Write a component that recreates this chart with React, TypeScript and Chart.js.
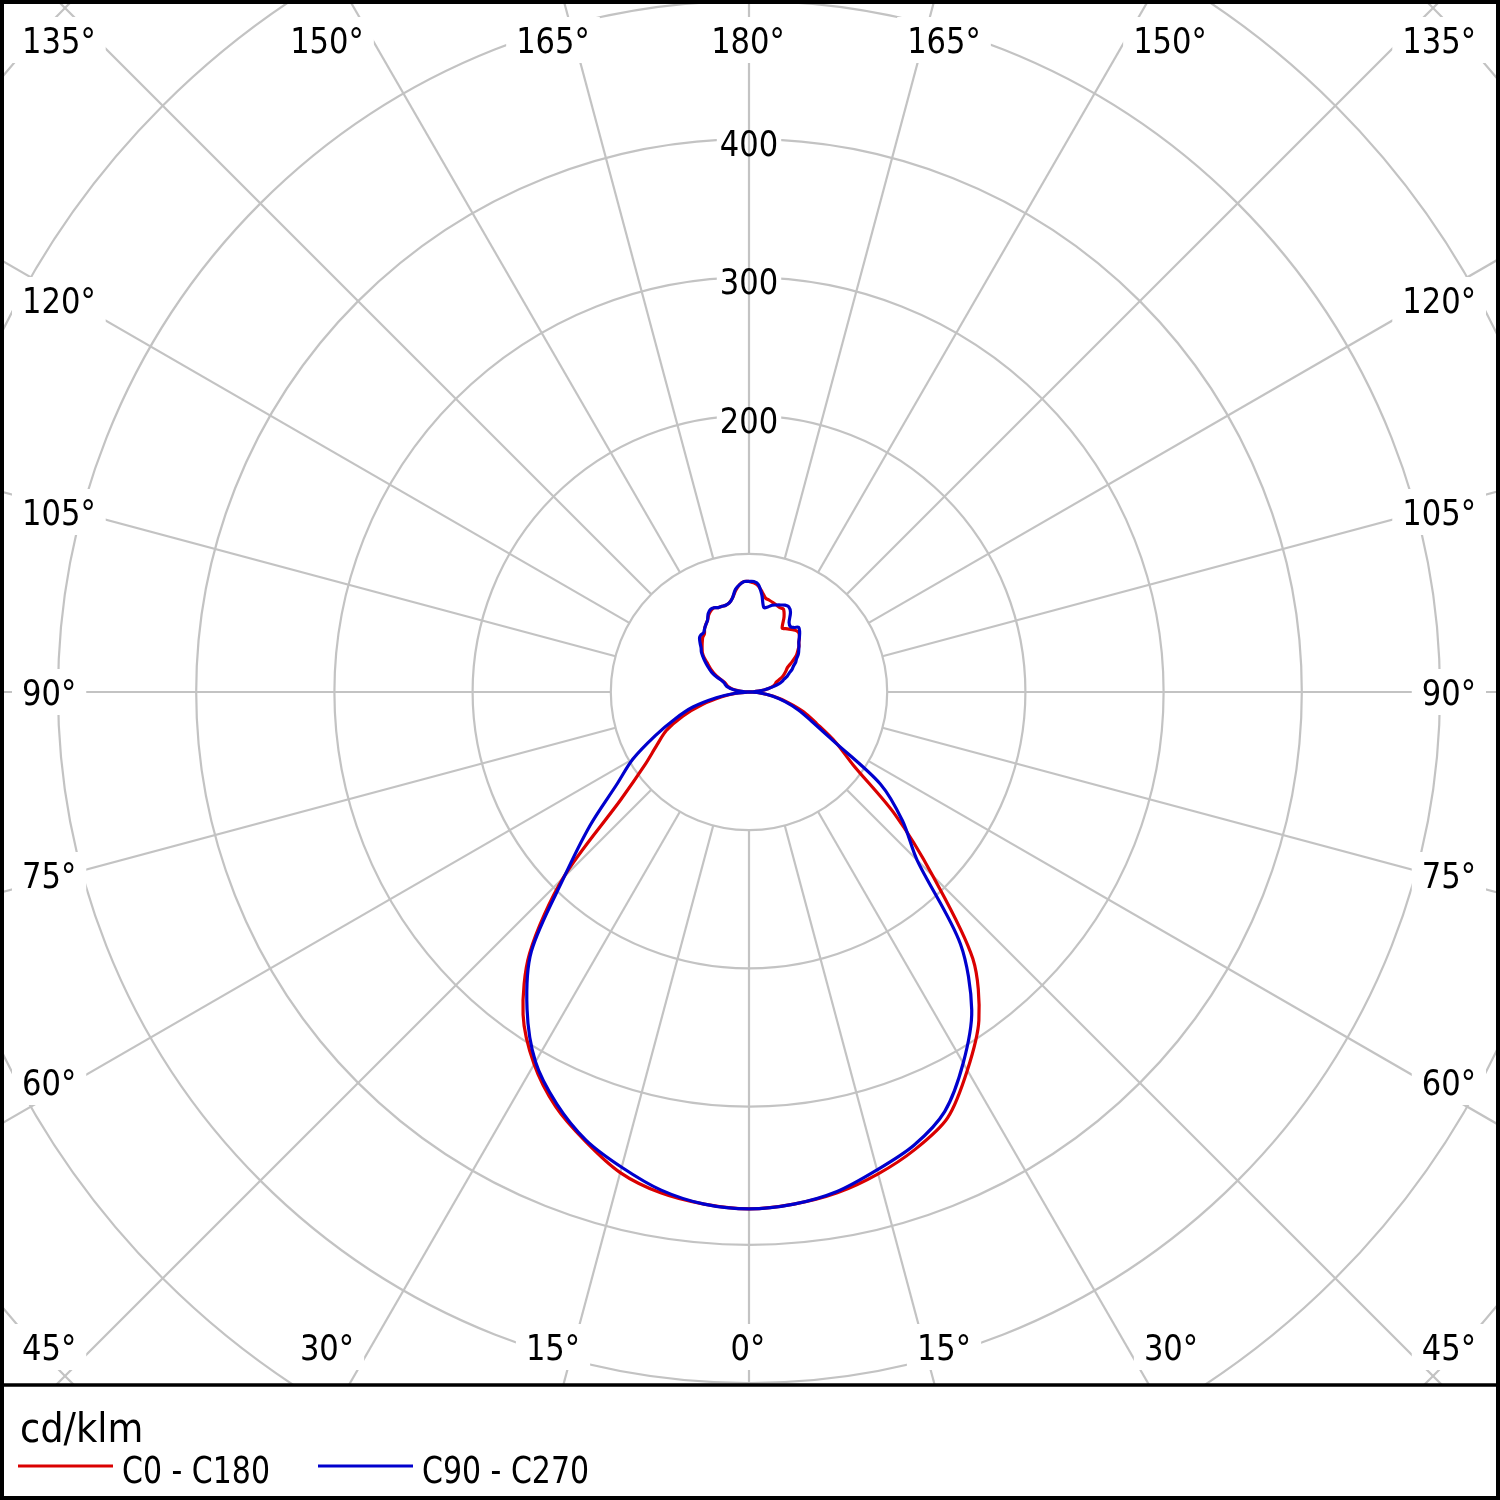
import React, { useEffect, useRef } from "react";
import { Chart, registerables } from "chart.js";

Chart.register(...registerables);

// Gamma angles (0° = straight down, 180° = straight up)
const ANGLES = [
  0, 5, 10, 15, 20, 25, 30, 35, 40, 45, 50, 55, 60, 65, 70, 75, 80, 85,
  90, 92.5, 95, 97.5, 100, 102.5, 105, 107.5, 110, 112.5, 115, 117.5, 120, 122.5,
  125, 127.5, 130, 132.5, 135, 137.5, 140, 142.5, 145, 147.5, 150, 152.5, 155,
  157.5, 160, 162.5, 165, 167.5, 170, 172.5, 175, 177.5, 180,
];

// Luminous intensity, cd/klm
const C0 = [
  374, 372, 368, 361, 352, 340, 316, 290, 252, 188, 138, 92, 72, 54, 42, 29, 18, 8,
  0, 3, 7, 11, 14, 17, 19, 20, 21, 24, 27, 29, 31, 33, 38, 43, 46, 49, 51, 54, 56,
  56, 55, 54, 53, 52, 60, 65, 65, 66, 67, 68, 69, 73, 77, 79, 80,
];
const C180 = [
  374, 372, 368, 360, 346, 331, 311, 285, 247, 190, 121, 92, 77, 66, 51, 35, 20, 9,
  0, 3, 6, 9, 12, 14, 16, 17, 18, 20, 24, 28, 31, 34, 37, 41, 44, 46, 48, 50, 52,
  53, 56, 58, 60, 63, 65, 66, 65, 65, 65, 66, 69, 74, 78, 80, 80,
];
const C90 = [
  374, 372, 367, 358, 349, 335, 310, 281, 238, 172, 145, 116, 70, 50, 38, 27, 17, 8,
  0, 3, 7, 11, 14, 18, 22, 25, 27, 30, 32, 35, 37, 40, 42, 45, 47, 49, 51, 54, 57,
  59, 57, 56, 58, 65, 68, 68, 67, 66, 65, 63, 62, 71, 78, 80, 80,
];
const C270 = [
  374, 372, 366, 356, 345, 329, 309, 280, 245, 189, 150, 117, 97, 75, 57, 42, 24, 10,
  0, 3, 7, 10, 13, 15, 17, 18, 19, 21, 26, 30, 33, 36, 39, 42, 45, 47, 50, 53, 54,
  54, 56, 58, 60, 64, 66, 66, 65, 65, 65, 66, 69, 75, 78, 80, 80,
];

const SERIES_LABELS = ["C0 - C180", "C90 - C270"];
const SERIES_COLORS = ["rgb(218,0,0)", "rgb(0,0,205)"];
const UNIT_LABEL = "cd/klm";
const RING_VALUES = [100, 200, 300, 400, 500, 600, 700, 800];
const RING_LABELS = [200, 300, 400];
const SPOKE_STEP = 15;

const W = 1500;
const H = 1500;
const PLOT_BOTTOM = 1385;
const PX_PER_UNIT = 1.382;
const CENTER_X = 749;
const CENTER_Y = 692;

function polarPath(left: number[], right: number[]) {
  const pts: { x: number; y: number }[] = [];
  for (let i = ANGLES.length - 1; i >= 0; i--) {
    const g = (ANGLES[i] * Math.PI) / 180;
    pts.push({ x: -left[i] * Math.sin(g), y: -left[i] * Math.cos(g) });
  }
  for (let i = 1; i < ANGLES.length; i++) {
    const g = (ANGLES[i] * Math.PI) / 180;
    pts.push({ x: right[i] * Math.sin(g), y: -right[i] * Math.cos(g) });
  }
  return pts;
}

const FONT = '"DejaVu Sans", Verdana, sans-serif';

function drawText(
  ctx: CanvasRenderingContext2D,
  text: string,
  x: number,
  yBase: number,
  align: CanvasTextAlign,
  sx: number
) {
  ctx.save();
  ctx.translate(x, yBase);
  ctx.scale(sx, 1);
  ctx.textAlign = align;
  ctx.textBaseline = "alphabetic";
  ctx.fillText(text, 0, 0);
  ctx.restore();
}

const gridPlugin = {
  id: "polarGrid",
  beforeDraw(chart: any) {
    const ctx: CanvasRenderingContext2D = chart.ctx;
    const xs = chart.scales.x;
    const ys = chart.scales.y;
    const cx = xs.getPixelForValue(0);
    const cy = ys.getPixelForValue(0);
    const k = xs.getPixelForValue(100) - cx;

    ctx.save();
    ctx.fillStyle = "#fff";
    ctx.fillRect(0, 0, W, H);
    ctx.beginPath();
    ctx.rect(3, 3, W - 6, PLOT_BOTTOM - 3);
    ctx.clip();

    ctx.strokeStyle = "#c3c3c3";
    ctx.lineWidth = 2.2;
    for (const v of RING_VALUES) {
      ctx.beginPath();
      ctx.arc(cx, cy, (v / 100) * k, 0, Math.PI * 2);
      ctx.stroke();
    }

    const sx = 0.85;
    ctx.font = `36px ${FONT}`;
    // masks for ring value labels (only hide the rings)
    for (const v of RING_LABELS) {
      const y = cy - (v / 100) * k + 4;
      const w = ctx.measureText(String(v)).width * sx;
      ctx.fillStyle = "#fff";
      ctx.fillRect(cx - w / 2 - 3, y - 14, w + 6, 28);
    }

    // spokes
    ctx.strokeStyle = "#c3c3c3";
    for (let a = 0; a < 360; a += SPOKE_STEP) {
      const t = (a * Math.PI) / 180;
      const dx = Math.sin(t);
      const dy = Math.cos(t);
      ctx.beginPath();
      ctx.moveTo(cx + dx * k, cy + dy * k);
      ctx.lineTo(cx + dx * 2500, cy + dy * 2500);
      ctx.stroke();
    }

    // edge angle labels
    const L = 22;
    const R = 1476;
    const TOP = 40;
    const BOT = 1347;
    const layout: [number, number, number, CanvasTextAlign][] = [
      [135, L, TOP, "left"],
      [150, 327, TOP, "center"],
      [165, 553, TOP, "center"],
      [180, 748, TOP, "center"],
      [165, 944, TOP, "center"],
      [150, 1170, TOP, "center"],
      [135, R, TOP, "right"],
      [120, L, 300, "left"],
      [105, L, 512, "left"],
      [90, L, 692, "left"],
      [75, L, 875, "left"],
      [60, L, 1082, "left"],
      [45, L, BOT, "left"],
      [120, R, 300, "right"],
      [105, R, 512, "right"],
      [90, R, 692, "right"],
      [75, R, 875, "right"],
      [60, R, 1082, "right"],
      [45, R, BOT, "right"],
      [30, 327, BOT, "center"],
      [15, 553, BOT, "center"],
      [0, 748, BOT, "center"],
      [15, 944, BOT, "center"],
      [30, 1171, BOT, "center"],
    ];
    for (const [a, x, y, align] of layout) {
      const txt = `${a}°`;
      const w = ctx.measureText(txt).width * sx;
      let x0 = x;
      if (align === "center") x0 = x - w / 2;
      if (align === "right") x0 = x - w;
      ctx.fillStyle = "#fff";
      ctx.fillRect(x0 - 10, y - 23, w + 20, 46);
      ctx.fillStyle = "#000";
      drawText(ctx, txt, x, y + 13, align, sx);
    }

    // ring value labels
    ctx.fillStyle = "#000";
    for (const v of RING_LABELS) {
      const y = cy - (v / 100) * k + 4;
      drawText(ctx, String(v), cx, y + 13, "center", sx);
    }
    ctx.restore();
  },
  afterDraw(chart: any) {
    const ctx: CanvasRenderingContext2D = chart.ctx;
    ctx.save();
    // legend area
    ctx.fillStyle = "#000";
    ctx.font = `40px ${FONT}`;
    drawText(ctx, UNIT_LABEL, 20, 1442, "left", 0.92);
    ctx.font = `37px ${FONT}`;
    const items = [
      { x0: 18, x1: 113, tx: 122 },
      { x0: 318, x1: 413, tx: 422 },
    ];
    chart.data.datasets.forEach((ds: any, i: number) => {
      const it = items[i];
      ctx.strokeStyle = ds.borderColor;
      ctx.lineWidth = 3;
      ctx.beginPath();
      ctx.moveTo(it.x0, 1466);
      ctx.lineTo(it.x1, 1466);
      ctx.stroke();
      ctx.fillStyle = "#000";
      drawText(ctx, ds.label, it.tx, 1483, "left", 0.81);
    });
    // frame
    ctx.strokeStyle = "#000";
    ctx.lineWidth = 4;
    ctx.strokeRect(2, 2, W - 4, H - 4);
    ctx.lineWidth = 3.5;
    ctx.beginPath();
    ctx.moveTo(0, PLOT_BOTTOM);
    ctx.lineTo(W, PLOT_BOTTOM);
    ctx.stroke();
    ctx.restore();
  },
};

export default function App() {
  const ref = useRef<HTMLCanvasElement | null>(null);
  useEffect(() => {
    if (!ref.current) return;
    const chart = new Chart(ref.current, {
      type: "scatter",
      data: {
        datasets: [
          {
            label: SERIES_LABELS[0],
            data: polarPath(C180, C0),
            showLine: true,
            borderColor: SERIES_COLORS[0],
            backgroundColor: SERIES_COLORS[0],
            borderWidth: 3.2,
            pointRadius: 0,
            tension: 0.3,
            order: 2,
          },
          {
            label: SERIES_LABELS[1],
            data: polarPath(C270, C90),
            showLine: true,
            borderColor: SERIES_COLORS[1],
            backgroundColor: SERIES_COLORS[1],
            borderWidth: 3.2,
            pointRadius: 0,
            tension: 0.3,
            order: 1,
          },
        ],
      },
      options: {
        animation: false,
        responsive: false,
        maintainAspectRatio: false,
        layout: { padding: 0 },
        scales: {
          x: {
            type: "linear",
            display: false,
            min: -CENTER_X / PX_PER_UNIT,
            max: (W - CENTER_X) / PX_PER_UNIT,
          },
          y: {
            type: "linear",
            display: false,
            min: -(H - CENTER_Y) / PX_PER_UNIT,
            max: CENTER_Y / PX_PER_UNIT,
          },
        },
        plugins: {
          legend: { display: false },
          tooltip: { enabled: false },
        },
      },
      plugins: [gridPlugin],
    });
    return () => chart.destroy();
  }, []);
  return (
    <div
      style={{
        position: "absolute",
        left: 0,
        top: 0,
        width: W,
        height: H,
        background: "#fff",
      }}
    >
      <canvas ref={ref} width={W} height={H} style={{ display: "block", width: W, height: H }} />
    </div>
  );
}
